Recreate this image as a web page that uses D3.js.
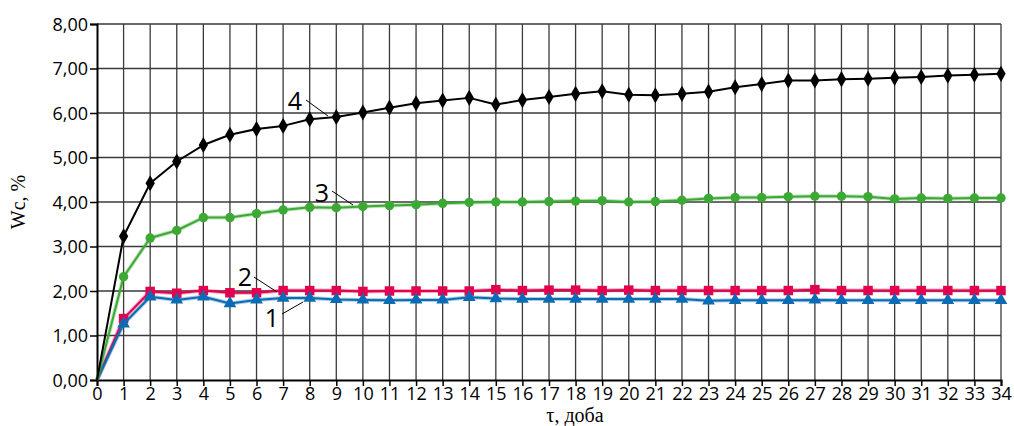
<!DOCTYPE html>
<html>
<head>
<meta charset="utf-8">
<script src="https://cdn.jsdelivr.net/npm/d3@7/dist/d3.min.js"></script>
<style>
  html, body { margin: 0; padding: 0; background: #fff; }
  svg { display: block; }
</style>
</head>
<body>
<svg id="chart" width="1014" height="426"></svg>
<script>
// Days of observation
const days = d3.range(0, 35);

// Moisture content Wc, % for each curve
const series1 = [0, 1.26, 1.87, 1.80, 1.87, 1.72, 1.80, 1.84, 1.84, 1.81, 1.80,
  1.79, 1.80, 1.80, 1.86, 1.83, 1.82, 1.82, 1.82, 1.82, 1.82, 1.82, 1.82,
  1.78, 1.79, 1.79, 1.79, 1.80, 1.79, 1.79, 1.79, 1.79, 1.79, 1.79, 1.79];
const series2 = [0, 1.38, 1.99, 1.95, 2.01, 1.96, 1.96, 2.01, 2.01, 2.01, 1.99,
  2.00, 2.00, 2.00, 2.00, 2.03, 2.01, 2.02, 2.02, 2.01, 2.02, 2.01, 2.01,
  2.01, 2.01, 2.01, 2.01, 2.03, 2.01, 2.01, 2.01, 2.01, 2.01, 2.01, 2.01];
const series3 = [0, 2.32, 3.19, 3.36, 3.65, 3.65, 3.74, 3.82, 3.88, 3.87, 3.90,
  3.92, 3.94, 3.97, 3.99, 4.00, 4.00, 4.01, 4.02, 4.03, 4.00, 4.01, 4.04,
  4.08, 4.10, 4.10, 4.12, 4.13, 4.13, 4.12, 4.07, 4.09, 4.08, 4.09, 4.09];
const series4 = [0, 3.23, 4.42, 4.91, 5.28, 5.51, 5.64, 5.71, 5.86, 5.91, 6.01,
  6.12, 6.22, 6.28, 6.34, 6.19, 6.29, 6.36, 6.43, 6.49, 6.41, 6.40, 6.43,
  6.48, 6.58, 6.65, 6.73, 6.73, 6.76, 6.77, 6.79, 6.81, 6.84, 6.86, 6.88];

const yTicks = [0, 1, 2, 3, 4, 5, 6, 7, 8];
const xTicks = d3.range(0, 35);
const yTitle = "Wc, %";
const xTitle = "τ, доба";

// Curve number labels with their leader lines
const curveLabels = ["1", "2", "3", "4"];

const svg = d3.select("#chart");
const x = d3.scaleLinear().domain([0, 34]).range([97, 1001]);
const y = d3.scaleLinear().domain([0, 8]).range([380, 24]);

const sansFont = "'Open Sans', 'Noto Sans', sans-serif";
const serifFont = "'Liberation Serif', 'DejaVu Serif', serif";

// grid
const grid = svg.append("g").attr("stroke", "#3a3a3a").attr("stroke-width", 1.3);
grid.selectAll("line.v").data(xTicks.slice(1)).join("line")
  .attr("x1", d => x(d)).attr("x2", d => x(d))
  .attr("y1", y(8)).attr("y2", y(0));
grid.selectAll("line.h").data(yTicks.slice(1)).join("line")
  .attr("x1", x(0)).attr("x2", x(34))
  .attr("y1", d => y(d)).attr("y2", d => y(d));

// axes
const yAxis = d3.axisLeft(y).tickValues(yTicks).tickSize(7).tickPadding(2)
  .tickFormat(d => d3.format(".2f")(d).replace(".", ","));
const gy = svg.append("g").attr("transform", `translate(${x(0)},0)`).call(yAxis);
gy.select(".domain").attr("stroke", "#000").attr("stroke-width", 2);
gy.selectAll(".tick line").attr("stroke", "#000").attr("stroke-width", 1.5);
gy.selectAll(".tick text").attr("font-family", sansFont).attr("font-size", 18)
  .attr("fill", "#000").attr("dy", "0.34em");

const xAxis = d3.axisBottom(x).tickValues(xTicks).tickSize(6).tickPadding(3)
  .tickFormat(d3.format("d"));
const gx = svg.append("g").attr("transform", `translate(0,${y(0)})`).call(xAxis);
gx.select(".domain").attr("stroke", "#000").attr("stroke-width", 2);
gx.selectAll(".tick line").attr("stroke", "#000").attr("stroke-width", 1.5);
gx.selectAll(".tick text").attr("font-family", sansFont).attr("font-size", 18)
  .attr("fill", "#000").attr("dy", "0.6em");

// titles
svg.append("text")
  .attr("transform", `translate(25,${202}) rotate(-90)`)
  .attr("text-anchor", "middle")
  .attr("font-family", serifFont).attr("font-size", 20)
  .text(yTitle);
svg.append("text")
  .attr("x", 575).attr("y", 422)
  .attr("text-anchor", "middle")
  .attr("font-family", serifFont).attr("font-size", 20)
  .text(xTitle);

const line = d3.line().x((d, i) => x(days[i])).y(d => y(d));

const defs = [
  { data: series2, color: "#e4004f", marker: d3.symbolSquare, size: 90 },
  { data: series1, color: "#0b6cb5", marker: d3.symbolTriangle, size: 70 },
  { data: series3, color: "#3da935", marker: d3.symbolCircle, size: 70 },
  { data: series4, color: "#000000", marker: d3.symbolDiamond, size: 75 }
];

defs.forEach(s => {
  const g = svg.append("g");
  if (s.color !== "#000000") {
    g.append("path").datum(s.data).attr("d", line)
      .attr("fill", "none").attr("stroke", s.color).attr("stroke-opacity", 0.35)
      .attr("stroke-width", 4).attr("stroke-linejoin", "round");
  }
  g.append("path").datum(s.data).attr("d", line)
    .attr("fill", "none").attr("stroke", s.color)
    .attr("stroke-width", 2).attr("stroke-linejoin", "round");
  g.selectAll("path.m").data(s.data.slice(1)).join("path")
    .attr("transform", (d, i) => `translate(${x(days[i + 1])},${y(d)})`)
    .attr("d", d3.symbol().type(s.marker).size(s.size))
    .attr("fill", s.color);
});

// curve labels
const labelPos = [
  { tx: 272, ty: 327, x1: 282, y1: 314, x2: 303, y2: 302 },
  { tx: 245, ty: 286, x1: 254, y1: 277, x2: 277, y2: 292 },
  { tx: 322, ty: 202, x1: 332, y1: 191, x2: 353, y2: 205 },
  { tx: 295, ty: 110, x1: 306, y1: 100, x2: 328, y2: 116 }
];
const lg = svg.append("g");
labelPos.forEach((p, i) => {
  lg.append("line").attr("x1", p.x1).attr("y1", p.y1).attr("x2", p.x2).attr("y2", p.y2)
    .attr("stroke", "#000").attr("stroke-width", 1);
  lg.append("text").attr("x", p.tx).attr("y", p.ty).attr("text-anchor", "middle")
    .attr("font-family", sansFont).attr("font-size", 25).attr("fill", "#000")
    .text(curveLabels[i]);
});
</script>
</body>
</html>
